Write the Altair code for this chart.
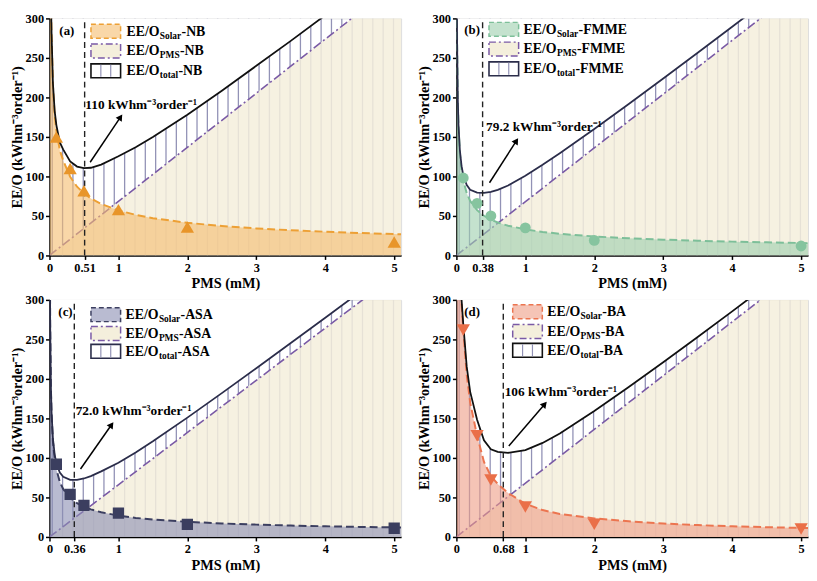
import altair as alt
import pandas as pd
import numpy as np

FONT = "Liberation Serif, Times New Roman, serif"

# ---------------- data ----------------
X_GRID = [0.005, 0.01, 0.02, 0.03, 0.05, 0.075, 0.1, 0.15, 0.2, 0.3, 0.4, 0.5,
          0.6, 0.75, 1.0, 1.25, 1.5, 2.0, 2.5, 3.0, 3.5, 4.0, 4.5, 5.0, 5.1]

NB_SOLAR = [520, 420, 330, 280, 215, 178, 158, 133, 120, 99.6, 87, 78.6,
            72.2, 65.1, 57, 51.4, 47.2, 41.3, 37.3, 34.2, 31.9, 30, 28.4, 27, 26.8]
NB_TOTAL = [520, 421, 331, 282, 218, 183, 165, 143, 134, 119, 112.5, 110.5,
            111, 115, 125.5, 137, 150, 178, 208.5, 240, 271.6, 304, 337, 370, 376]

FMME_SOLAR = [373, 272, 198, 164, 130, 108, 94.7, 78.7, 69, 57.3, 50.2, 45.3,
              41.7, 37.6, 33, 29.8, 27.4, 24, 21.7, 20, 18.6, 17.5, 16.6, 15.8, 15.6]
FMME_TOTAL = [373.3, 272.7, 199.4, 166, 133.4, 113, 101.5, 89, 83, 79.5, 79.2, 80.5,
              83, 88.6, 101, 114.8, 129.4, 160, 191.7, 224, 256.6, 289.5, 322.6, 355.8, 362]

ASA_SOLAR = [380, 270, 191, 156, 121, 99, 85.4, 69.7, 60.4, 49.3, 42.7, 38.2,
             34.9, 31.2, 27, 24.1, 22, 19.1, 17.1, 15.6, 14.4, 13.5, 12.7, 12.1, 12]
ASA_TOTAL = [380.3, 270.7, 192.3, 158, 124.5, 104.5, 93, 81.5, 76, 72.2, 72.2, 74,
             77, 83, 94, 107, 121, 151, 182, 213.6, 245.4, 277.5, 309.7, 342, 348.6]

BA_SOLAR = [550, 500, 450, 400, 340, 295, 262, 205, 170, 128, 95, 77,
            67, 55.5, 42, 34, 29, 23.5, 19.8, 17, 15, 13.5, 12.3, 11.4, 11.2]
BA_TOTAL = [550, 500.7, 451, 402, 343.4, 300, 268.8, 215.2, 183.6, 148.4, 122.2, 111,
            107.8, 106.5, 110, 119, 131, 159.5, 189.8, 221, 253, 285.5, 318.3, 351.4, 358]

PMS_X = [0, 5.1]
NB_PMS = [0, 349]
FMME_PMS = [0, 347]
ASA_PMS = [0, 337]
BA_PMS = [0, 347]

PTS_X = [0.1, 0.3, 0.5, 1, 2, 5]
NB_PTS = [150, 110, 82, 58, 36, 17]
FMME_PTS = [98, 66, 50, 35, 19, 12]
ASA_PTS = [92, 54, 40, 30, 16, 11]
BA_PTS = [262, 128, 72, 38, 16, 10]

OPT_X = {"NB": 0.51, "FMME": 0.38, "ASA": 0.36, "BA": 0.68}
OPT_LABEL = {"NB": "110 kWhm\u207b\u00b3order\u207b\u00b9",
             "FMME": "79.2 kWhm\u207b\u00b3order\u207b\u00b9",
             "ASA": "72.0 kWhm\u207b\u00b3order\u207b\u00b9",
             "BA": "106 kWhm\u207b\u00b3order\u207b\u00b9"}
# annotation text anchor (x, y) and arrow (x1, y1, x2, y2) in data units
ANNOT_XY = {"NB": (0.52, 185), "FMME": (0.43, 158), "ASA": (0.38, 154), "BA": (0.70, 178)}
ARROW = {"NB": (0.59, 118, 1.03, 175), "FMME": (0.48, 92, 0.87, 145),
         "ASA": (0.45, 86, 0.90, 142), "BA": (0.76, 115, 1.28, 168)}
PANEL_TAG = {"NB": "(a)", "FMME": "(b)", "ASA": "(c)", "BA": "(d)"}

# ---------------- styles ----------------
W, H = 356, 240
XMAX = 5.1
CREAM = "#f4efdc"
PURPLE = "#7a5aa6"
HATCH = "#9292b6"

STYLE = {
    "NB": dict(fill="#f5bd6e", line="#eda035", pt="#e8952a", shape="triangle-up",
               total="#111111", psize=180),
    "FMME": dict(fill="#9ccfae", line="#7dbf99", pt="#86c49f", shape="circle",
                 total="#2b2d4a", psize=120),
    "ASA": dict(fill="#8a8db3", line="#3c3f60", pt="#3b3e5f", shape="square",
                total="#2b2d4a", psize=130),
    "BA": dict(fill="#ee9c85", line="#ec7550", pt="#ea6f48", shape="triangle-down",
               total="#111111", psize=180),
}

LEGEND_POS = {  # swatch x1, x2, row y ranges, text x (pixels inside plot)
    "NB": dict(x1=42, x2=72, rows=[(6, 20), (26, 40), (46, 60)], tx=78),
    "FMME": dict(x1=33, x2=63, rows=[(4, 18), (24, 38), (44, 58)], tx=68),
    "ASA": dict(x1=42, x2=72, rows=[(8, 22), (27, 41), (45, 59)], tx=77),
    "BA": dict(x1=57, x2=87, rows=[(5, 19), (25, 39), (44, 58)], tx=92),
}
TAG_POS = {"NB": (10, 13), "FMME": (8, 12), "ASA": (9, 12), "BA": (8, 12)}

# Times/Liberation Serif Bold advance widths (em)
MET = {"E": .667, "/": .278, "O": .778, "S": .556, "o": .5, "l": .278, "a": .5,
       "r": .444, "P": .611, "M": .944, "t": .333, "-": .333, "N": .722, "B": .667,
       "F": .611, "A": .722}


def tw(s, size):
    return sum(MET.get(c, .5) for c in s) * size


def axis_x(opt):
    return alt.Axis(values=[0, opt, 1, 2, 3, 4, 5], format=".2~f", title="PMS (mM)",
                    labelFont=FONT, labelFontSize=12.5, labelFontWeight="bold",
                    labelColor="black", tickColor="black", tickWidth=1.5, tickSize=4,
                    domainColor="black", domainWidth=1.5, grid=False, labelPadding=2,
                    labelOverlap=False, labelFlush=False,
                    titleFont=FONT, titleFontSize=14.5, titleFontWeight="bold",
                    titleColor="black", titlePadding=3)


def axis_y():
    return alt.Axis(values=[0, 50, 100, 150, 200, 250, 300],
                    title="EE/O (kWhm\u207b\u00b3order\u207b\u00b9)",
                    labelFont=FONT, labelFontSize=12.5, labelFontWeight="bold",
                    labelColor="black", tickColor="black", tickWidth=1.5, tickSize=4,
                    domainColor="black", domainWidth=1.5, grid=False, labelPadding=2,
                    labelOverlap=False, labelFlush=False,
                    titleFont=FONT, titleFontSize=14.5, titleFontWeight="bold",
                    titleColor="black", titlePadding=1)


def panel(key, solar, total, pms, pts):
    st = STYLE[key]
    opt = OPT_X[key]
    xs = alt.Scale(domain=[0, XMAX], nice=False, zero=False)
    ys = alt.Scale(domain=[0, 300], nice=False)

    def X(f):
        return alt.X(f, type="quantitative", scale=xs, axis=axis_x(opt))

    def Y(f):
        return alt.Y(f, type="quantitative", scale=ys, axis=axis_y())

    curve = pd.DataFrame({"x": X_GRID, "solar": solar, "total": total,
                          "zero": 0, "top": 300})
    pmsd = pd.DataFrame({"x": PMS_X, "pms": pms, "zero": 0})
    ptsd = pd.DataFrame({"x": PTS_X, "y": pts})
    hx = np.arange(0.04, XMAX, 0.15)
    hatchd = pd.DataFrame({"x": hx, "y0": 0, "y1": 300})
    vline = pd.DataFrame({"x": [opt], "y0": [0], "y1": [300]})
    ax1, ay1, ax2, ay2 = ARROW[key]
    arrd = pd.DataFrame({"x": [ax1], "y": [ay1], "xe": [ax2], "ye": [ay2]})
    ang = float(np.degrees(np.arctan2((ax2 - ax1) * W / XMAX, (ay2 - ay1) * H / 300)))
    tx, ty = ANNOT_XY[key]
    annd = pd.DataFrame({"x": [tx], "y": [ty], "t": [OPT_LABEL[key]]})
    one = pd.DataFrame({"d": [0]})

    layers = []
    layers.append(alt.Chart(hatchd).mark_rule(color=HATCH, strokeWidth=1.3, clip=True)
                  .encode(x=X("x"), y=Y("y0"), y2="y1"))
    layers.append(alt.Chart(curve).mark_area(color="white", opacity=1, clip=True)
                  .encode(x=X("x"), y=Y("total"), y2="top"))
    layers.append(alt.Chart(pmsd).mark_area(color=CREAM, opacity=0.85, clip=True)
                  .encode(x=X("x"), y=Y("pms"), y2="zero"))
    layers.append(alt.Chart(pmsd).mark_line(color=PURPLE, strokeWidth=1.6,
                                            strokeDash=[9, 3, 2, 3], clip=True)
                  .encode(x=X("x"), y=Y("pms")))
    layers.append(alt.Chart(curve).mark_area(color=st["fill"], opacity=0.6, clip=True)
                  .encode(x=X("x"), y=Y("solar"), y2="zero"))
    layers.append(alt.Chart(curve).mark_line(color=st["line"], strokeWidth=2,
                                             strokeDash=[8, 4], clip=True)
                  .encode(x=X("x"), y=Y("solar")))
    layers.append(alt.Chart(curve).mark_line(color=st["total"], strokeWidth=1.8, clip=True)
                  .encode(x=X("x"), y=Y("total")))
    layers.append(alt.Chart(vline).mark_rule(color="#222222", strokeWidth=1.4,
                                             strokeDash=[6, 4])
                  .encode(x=X("x"), y=Y("y0"), y2="y1"))
    layers.append(alt.Chart(ptsd).mark_point(shape=st["shape"], filled=True, opacity=1,
                                             color=st["pt"], size=st["psize"], clip=True)
                  .encode(x=X("x"), y=Y("y")))
    layers.append(alt.Chart(arrd).mark_rule(color="black", strokeWidth=1.5)
                  .encode(x=X("x"), y=Y("y"), x2="xe", y2="ye"))
    layers.append(alt.Chart(arrd).mark_point(shape="triangle-up", filled=True, opacity=1,
                                             color="black", size=55, angle=ang)
                  .encode(x=X("xe"), y=Y("ye")))
    layers.append(alt.Chart(annd).mark_text(font=FONT, fontSize=13.5, fontWeight="bold",
                                            align="left", baseline="alphabetic",
                                            color="black")
                  .encode(x=X("x"), y=Y("y"), text="t:N"))

    # ----- custom legend -----
    lp = LEGEND_POS[key]
    x1, x2 = lp["x1"], lp["x2"]
    (r1a, r1b), (r2a, r2b), (r3a, r3b) = lp["rows"]
    layers.append(alt.Chart(one).mark_rect(fill=st["fill"], fillOpacity=0.6,
                                           stroke=st["line"], strokeWidth=1.5,
                                           strokeDash=[5, 3])
                  .encode(x=alt.value(x1), x2=alt.value(x2), y=alt.value(r1a), y2=alt.value(r1b)))
    layers.append(alt.Chart(one).mark_rect(fill=CREAM, stroke=PURPLE, strokeWidth=1.5,
                                           strokeDash=[7, 3, 2, 3])
                  .encode(x=alt.value(x1), x2=alt.value(x2), y=alt.value(r2a), y2=alt.value(r2b)))
    layers.append(alt.Chart(one).mark_rect(fill="white", stroke=st["total"], strokeWidth=1.6)
                  .encode(x=alt.value(x1), x2=alt.value(x2), y=alt.value(r3a), y2=alt.value(r3b)))
    for k in (1, 2):
        xx = x1 + (x2 - x1) * k / 3
        layers.append(alt.Chart(one).mark_rule(color=HATCH, strokeWidth=1.2)
                      .encode(x=alt.value(xx), y=alt.value(r3a + 1), y2=alt.value(r3b - 1)))
    for (ra, rb), sub in zip(lp["rows"], ["Solar", "PMS", "total"]):
        yc = (ra + rb) / 2 + 0.5
        t0 = lp["tx"]
        w1 = tw("EE/O", 14)
        w2 = tw(sub, 9.5)
        suffix = "-" + key
        layers.append(alt.Chart(one).mark_text(font=FONT, fontSize=14, fontWeight="bold",
                                               align="left", baseline="middle", color="black")
                      .encode(x=alt.value(t0), y=alt.value(yc), text=alt.value("EE/O")))
        layers.append(alt.Chart(one).mark_text(font=FONT, fontSize=9.5, fontWeight="bold",
                                               align="left", baseline="middle", color="black")
                      .encode(x=alt.value(t0 + w1 + 0.3), y=alt.value(yc + 4),
                              text=alt.value(sub)))
        layers.append(alt.Chart(one).mark_text(font=FONT, fontSize=14, fontWeight="bold",
                                               align="left", baseline="middle", color="black")
                      .encode(x=alt.value(t0 + w1 + w2 + 0.6), y=alt.value(yc),
                              text=alt.value(suffix)))
    gx, gy = TAG_POS[key]
    layers.append(alt.Chart(one).mark_text(font=FONT, fontSize=13, fontWeight="bold",
                                           align="left", baseline="middle", color="black")
                  .encode(x=alt.value(gx), y=alt.value(gy), text=alt.value(PANEL_TAG[key])))

    return alt.layer(*layers).properties(width=W, height=H)


pa = panel("NB", NB_SOLAR, NB_TOTAL, NB_PMS, NB_PTS)
pb = panel("FMME", FMME_SOLAR, FMME_TOTAL, FMME_PMS, FMME_PTS)
pc = panel("ASA", ASA_SOLAR, ASA_TOTAL, ASA_PMS, ASA_PTS)
pdd = panel("BA", BA_SOLAR, BA_TOTAL, BA_PMS, BA_PTS)

chart = alt.vconcat(
    alt.hconcat(pa, pb, spacing=13),
    alt.hconcat(pc, pdd, spacing=13),
    spacing=2,
).properties(padding=0).configure_view(stroke="#808080", strokeWidth=1.5).configure(font=FONT)

chart.save("out.html", embed_options={"renderer": "svg", "actions": False})
